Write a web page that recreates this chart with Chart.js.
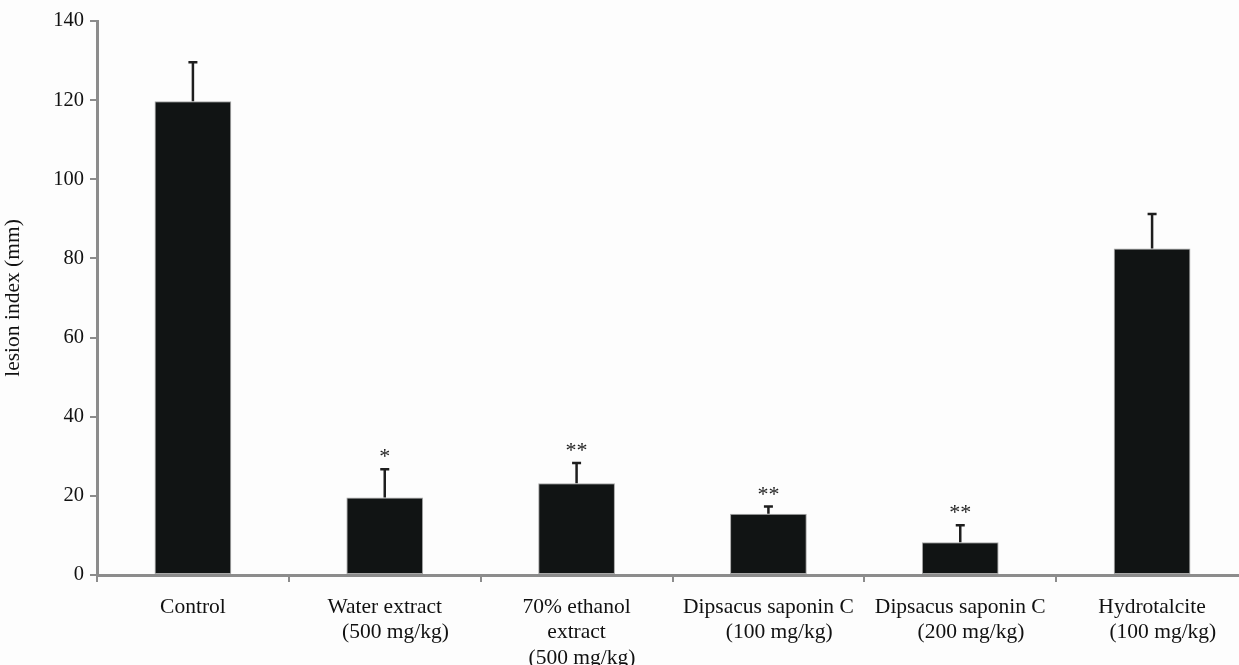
<!DOCTYPE html>
<html>
<head>
<meta charset="utf-8">
<script src="https://cdn.jsdelivr.net/npm/chart.js@4.4.1/dist/chart.umd.min.js"></script>
<style>
  html, body { margin: 0; padding: 0; overflow: hidden; background: #fdfdfd; }
  #wrap { width: 1250px; height: 665px; position: relative; }
</style>
</head>
<body>
<div id="wrap"><canvas id="lesionChart"></canvas></div>
<script>
// ---- data ----
var groups = [
  "Control",
  ["Water extract", "    (500 mg/kg)"],
  ["70% ethanol", "extract", "  (500 mg/kg)"],
  ["Dipsacus saponin C", "    (100 mg/kg)"],
  ["Dipsacus saponin C", "    (200 mg/kg)"],
  ["Hydrotalcite", "    (100 mg/kg)"]
];
var lesionMean = [119.7, 19.6, 23.2, 15.5, 8.3, 82.5];
var lesionErr  = [9.9, 7.1, 5.1, 1.8, 4.3, 8.7];
var signif     = ["", "*", "**", "**", "**", ""];
var yTicks     = [0, 20, 40, 60, 80, 100, 120, 140];

var serif = "'Liberation Serif', 'Times New Roman', serif";
var axisGray = "#8c8c8c";

// error bars + significance stars
var errPlugin = {
  id: 'errBars',
  afterDatasetsDraw: function (chart) {
    var ctx = chart.ctx;
    var x = chart.scales.x, y = chart.scales.y;
    ctx.save();
    lesionMean.forEach(function (v, i) {
      var cx = x.getPixelForValue(i);
      var top = y.getPixelForValue(v);
      var cap = y.getPixelForValue(v + lesionErr[i]);
      ctx.strokeStyle = "#1e1e1e";
      ctx.lineWidth = 2.5;
      ctx.beginPath();
      ctx.moveTo(cx, top);
      ctx.lineTo(cx, cap);
      ctx.moveTo(cx - 4.5, cap);
      ctx.lineTo(cx + 4.5, cap);
      ctx.stroke();
      if (signif[i]) {
        ctx.fillStyle = "#222";
        ctx.font = "22px " + serif;
        ctx.textAlign = "center";
        ctx.textBaseline = "alphabetic";
        ctx.fillText(signif[i], cx, cap - 6);
      }
    });
    ctx.restore();
  }
};

var chartCanvas = document.getElementById("lesionChart");
var barChart = new Chart(chartCanvas, {
  type: 'bar',
  data: {
    labels: groups,
    datasets: [{
      data: lesionMean,
      backgroundColor: "#111414",
      borderColor: "#a8a8a8",
      borderWidth: 1,
      borderSkipped: false,
      categoryPercentage: 1.0,
      barPercentage: 0.4
    }]
  },
  options: {
    responsive: true,
    maintainAspectRatio: false,
    animation: false,
    layout: { padding: { top: 21, right: 2, bottom: 0, left: 0 } },
    plugins: {
      legend: { display: false },
      tooltip: { enabled: false }
    },
    scales: {
      x: {
        offset: true,
        grid: {
          offset: true,
          drawOnChartArea: false,
          drawTicks: true,
          tickLength: 7,
          color: axisGray,
          lineWidth: 2
        },
        border: { color: axisGray, width: 3 },
        ticks: {
          color: "#111",
          font: { family: serif, size: 21.5, lineHeight: 1.2 },
          padding: 12,
          maxRotation: 0,
          autoSkip: false
        },
        afterFit: function (s) { s.height = 90; }
      },
      y: {
        min: 0,
        max: 140,
        afterBuildTicks: function (s) {
          s.ticks = yTicks.map(function (t) { return { value: t }; });
        },
        grid: {
          drawOnChartArea: false,
          tickLength: 7,
          color: axisGray,
          lineWidth: 2
        },
        border: { color: axisGray, width: 3 },
        ticks: {
          color: "#111",
          font: { family: serif, size: 20.5 },
          padding: 6
        },
        title: {
          display: true,
          text: "lesion index (mm)",
          color: "#111",
          font: { family: serif, size: 21.5 },
          padding: { top: 0, bottom: 0 }
        },
        afterFit: function (s) { s.width = 97; }
      }
    }
  },
  plugins: [errPlugin]
});
</script>
</body>
</html>
